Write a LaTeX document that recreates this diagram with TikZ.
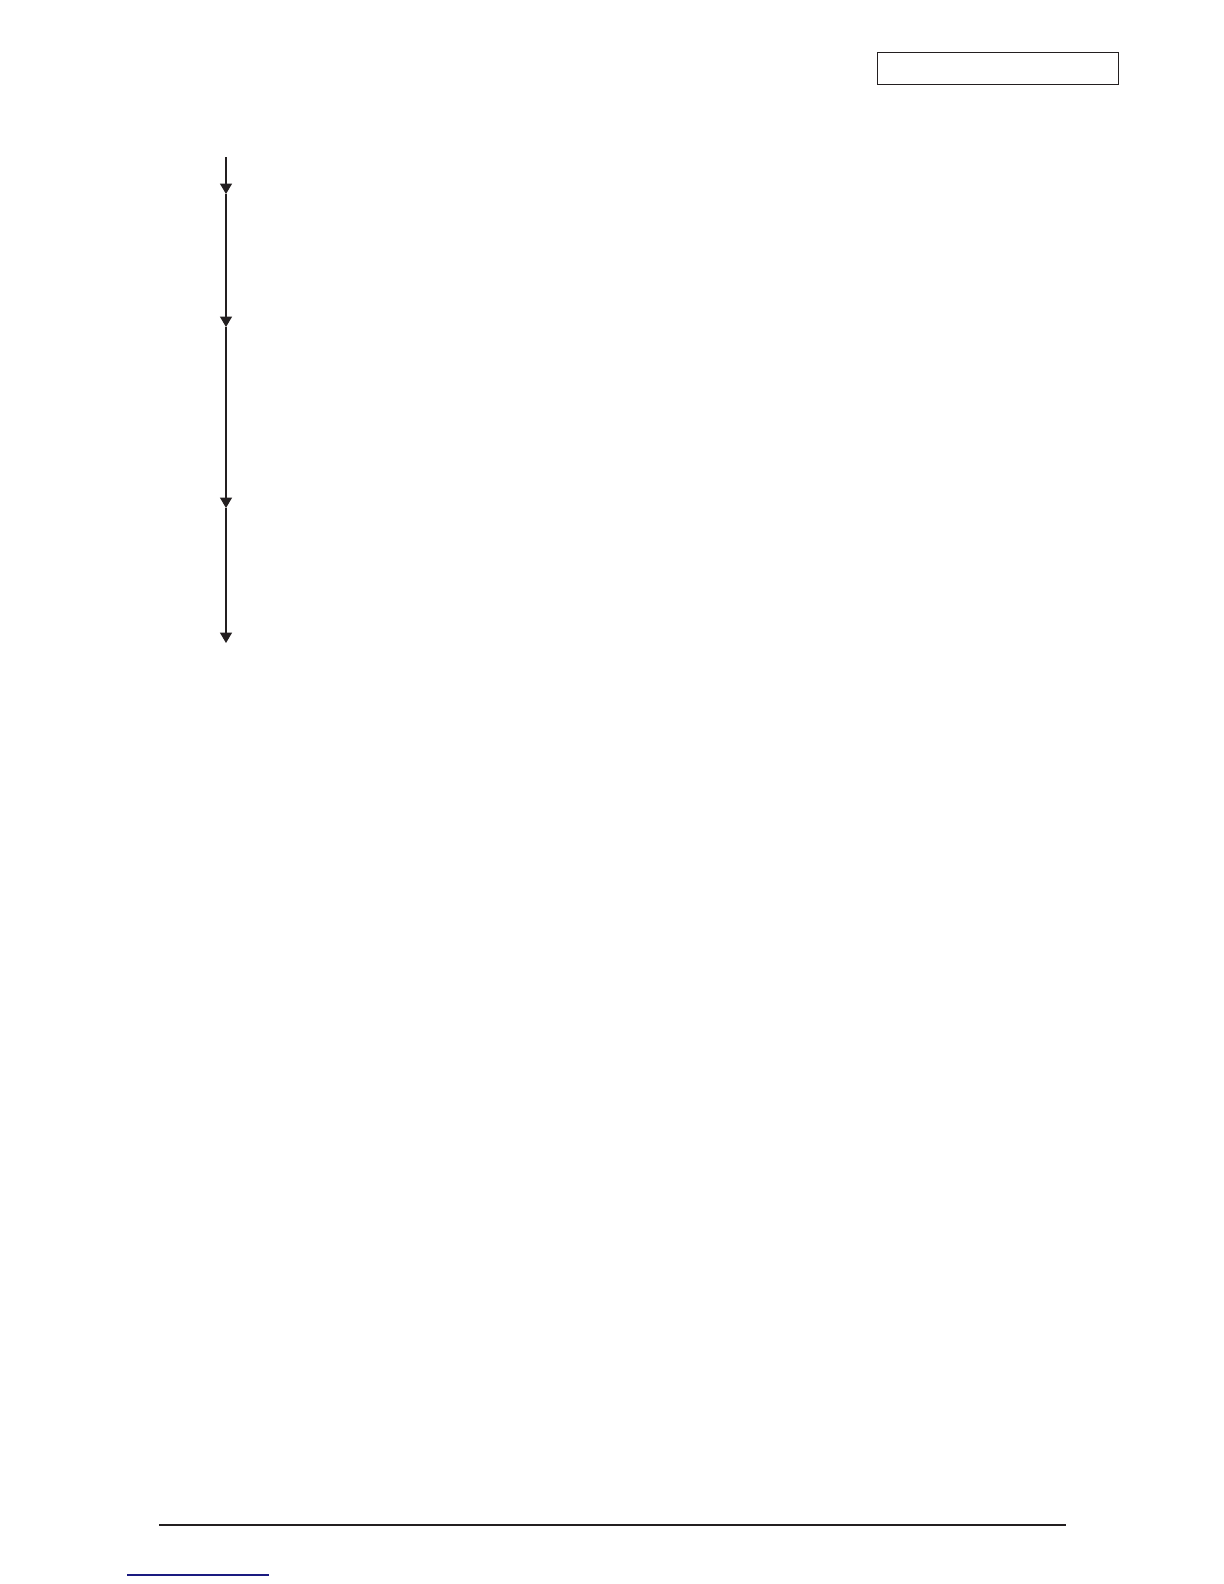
\documentclass[tikz,border=0pt]{standalone}
\usetikzlibrary{arrows.meta}
\definecolor{ink}{HTML}{231F20}
\definecolor{linkblue}{HTML}{1A1A80}
\begin{document}
\begin{tikzpicture}[x=0.5pt,y=-0.5pt,
  flowline/.style={draw=ink,line width=0.55pt,-{Triangle[width=6pt,length=5.2pt]}},
  headerbox/.style={draw=ink,line width=0.5pt,rectangle,minimum width=120.5pt,minimum height=16pt,inner sep=0pt},
  rule/.style={draw=ink,line width=0.7pt},
  bluerule/.style={draw=linkblue,line width=0.8pt}]
\useasboundingbox (0,0) rectangle (1224,1584);
\node[headerbox] (hdr) at (997.5,69) {};
\coordinate (a0) at (226,157);
\coordinate (a1) at (226,194);
\coordinate (a2) at (226,327);
\coordinate (a3) at (226,508);
\coordinate (a4) at (226,643);
\draw[flowline] (a0) -- (a1);
\draw[flowline] (a1) -- (a2);
\draw[flowline] (a2) -- (a3);
\draw[flowline] (a3) -- (a4);
\coordinate (r0) at (159,1525);
\coordinate (r1) at (1066,1525);
\draw[rule] (r0) -- (r1);
\coordinate (b0) at (127,1575);
\coordinate (b1) at (269,1575);
\draw[bluerule] (b0) -- (b1);
\end{tikzpicture}
\end{document}
